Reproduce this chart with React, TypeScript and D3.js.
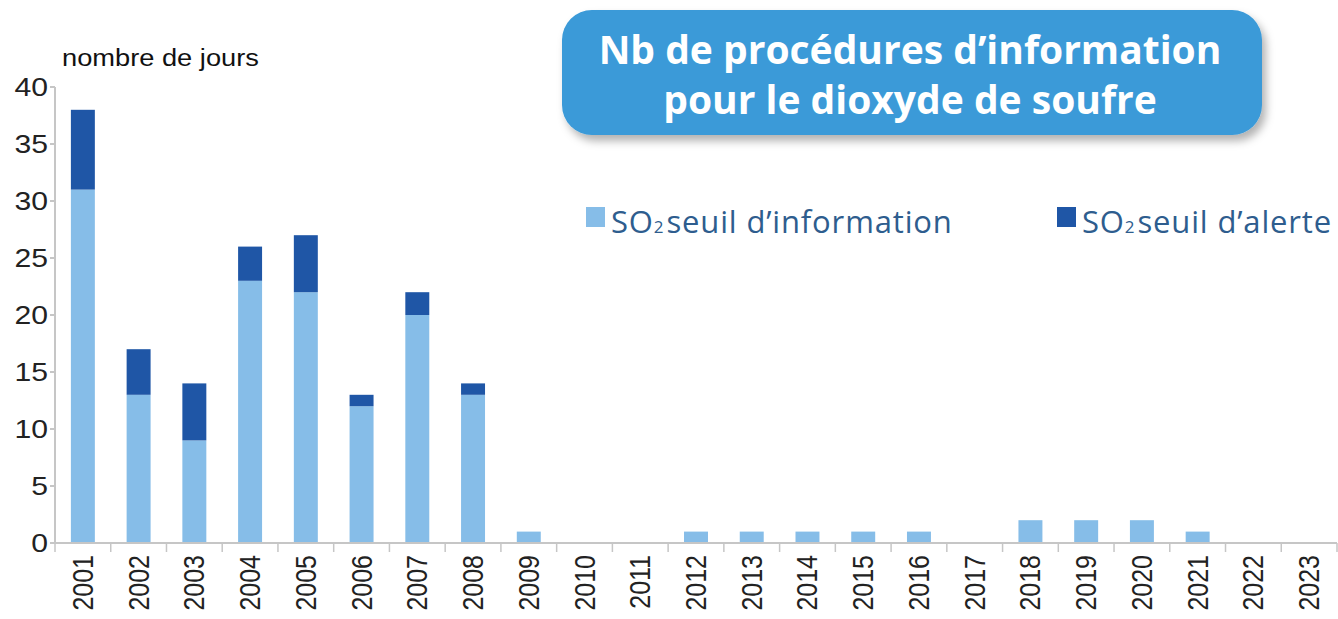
import React, { useRef, useEffect } from 'react';
import * as d3 from 'd3';

const years = ['2001', '2002', '2003', '2004', '2005', '2006', '2007', '2008', '2009', '2010', '2011', '2012',
  '2013', '2014', '2015', '2016', '2017', '2018', '2019', '2020', '2021', '2022', '2023'];
const infoValues = [31, 13, 9, 23, 22, 12, 20, 13, 1, 0, 0, 1, 1, 1, 1, 1, 0, 2, 2, 2, 1, 0, 0];
const alerteValues = [7, 4, 5, 3, 5, 1, 2, 1, 0, 0, 0, 0, 0, 0, 0, 0, 0, 0, 0, 0, 0, 0, 0];
const yTicks = [0, 5, 10, 15, 20, 25, 30, 35, 40];

const LIGHT = '#86bde8';
const DARK = '#1f56a6';
const STRETCH = 1.16; // the source text looks horizontally stretched

const App = () => {
  const svgRef = useRef<SVGSVGElement>(null);

  useEffect(() => {
    if (!svgRef.current) return;
    const width = 1338;
    const height = 619;

    d3.select(svgRef.current).selectAll('*').remove();
    const svg = d3.select(svgRef.current)
      .attr('width', width)
      .attr('height', height);

    // scales
    const x = d3.scaleBand()
      .domain(years)
      .range([55, 1337])
      .paddingInner(0.57)
      .paddingOuter(0.285);

    const y = d3.scaleLinear()
      .domain([0, 40])
      .range([543, 87]);

    // title box with shadow
    const defs = svg.append('defs');
    const filter = defs.append('filter')
      .attr('id', 'shadow')
      .attr('x', '-10%').attr('y', '-10%')
      .attr('width', '120%').attr('height', '140%');
    filter.append('feDropShadow')
      .attr('dx', 4).attr('dy', 6)
      .attr('stdDeviation', 4)
      .attr('flood-color', '#000')
      .attr('flood-opacity', 0.3);

    svg.append('rect')
      .attr('x', 562).attr('y', 10)
      .attr('width', 700).attr('height', 125)
      .attr('rx', 30)
      .attr('fill', '#3b9ad8')
      .attr('filter', 'url(#shadow)');

    const titleLines = ['Nb de procédures d\u2019information', 'pour le dioxyde de soufre'];
    titleLines.forEach((t, i) => {
      svg.append('text')
        .attr('x', 910)
        .attr('y', 64 + i * 50)
        .attr('text-anchor', 'middle')
        .attr('font-family', 'Open Sans')
        .attr('font-weight', 'bold')
        .attr('font-size', 39)
        .attr('fill', '#fff')
        .text(t);
    });

    // y axis label
    svg.append('text')
      .attr('transform', `translate(62,66) scale(${STRETCH},1)`)
      .attr('font-family', 'Liberation Sans')
      .attr('font-size', 23.5)
      .attr('fill', '#111')
      .text('nombre de jours');

    // axes lines
    const axisColor = '#c6c6c6';
    svg.append('line')
      .attr('x1', 55).attr('x2', 55)
      .attr('y1', y(40)).attr('y2', y(0))
      .attr('stroke', axisColor).attr('stroke-width', 2);

    svg.selectAll('.ytick')
      .data(yTicks)
      .enter()
      .append('line')
      .attr('x1', 50).attr('x2', 55)
      .attr('y1', d => y(d)).attr('y2', d => y(d))
      .attr('stroke', axisColor).attr('stroke-width', 2);

    svg.selectAll('.ylabel')
      .data(yTicks)
      .enter()
      .append('text')
      .attr('transform', d => `translate(48,${y(d) + 9}) scale(${STRETCH},1)`)
      .attr('text-anchor', 'end')
      .attr('font-family', 'Liberation Sans')
      .attr('font-size', 26)
      .attr('fill', '#222')
      .text(d => d);

    // bars
    const bw = x.bandwidth();
    svg.selectAll('.bar-info')
      .data(years)
      .enter()
      .append('rect')
      .attr('x', d => x(d)!)
      .attr('y', (d, i) => y(infoValues[i]))
      .attr('width', bw)
      .attr('height', (d, i) => y(0) - y(infoValues[i]))
      .attr('fill', LIGHT);

    svg.selectAll('.bar-alerte')
      .data(years)
      .enter()
      .append('rect')
      .attr('x', d => x(d)!)
      .attr('y', (d, i) => y(infoValues[i] + alerteValues[i]))
      .attr('width', bw)
      .attr('height', (d, i) => y(infoValues[i]) - y(infoValues[i] + alerteValues[i]))
      .attr('fill', DARK);

    // x axis
    svg.append('line')
      .attr('x1', 55).attr('x2', 1337)
      .attr('y1', y(0)).attr('y2', y(0))
      .attr('stroke', axisColor).attr('stroke-width', 2);

    const step = x.step();
    svg.selectAll('.xtick')
      .data(d3.range(years.length + 1))
      .enter()
      .append('line')
      .attr('x1', i => 55 + i * step).attr('x2', i => 55 + i * step)
      .attr('y1', y(0)).attr('y2', y(0) + 9)
      .attr('stroke', axisColor).attr('stroke-width', 1.5);

    svg.selectAll('.xlabel')
      .data(years)
      .enter()
      .append('text')
      .attr('transform', d => `translate(${x(d)! + bw / 2 + 10},555) scale(${STRETCH},1) rotate(-90)`)
      .attr('text-anchor', 'end')
      .attr('font-family', 'Liberation Sans')
      .attr('font-size', 25)
      .attr('fill', '#222')
      .text(d => d);

    // legend
    const legendItems = [
      { label: 'seuil d\u2019information', color: LIGHT, x: 586 },
      { label: 'seuil d\u2019alerte', color: DARK, x: 1057 },
    ];
    legendItems.forEach(item => {
      svg.append('rect')
        .attr('x', item.x).attr('y', 207)
        .attr('width', 19).attr('height', 20)
        .attr('fill', item.color);
      const t = svg.append('text')
        .attr('x', item.x + 25).attr('y', 233)
        .attr('font-family', 'Open Sans')
        .attr('font-size', 31)
        .attr('letter-spacing', 0.85)
        .attr('fill', '#2e5d8e');
      t.append('tspan').text('SO');
      t.append('tspan').attr('font-size', 17).text('2');
      t.append('tspan').attr('dx', 2).text(item.label);
    });
  }, []);

  return <svg ref={svgRef} style={{ position: 'absolute', left: 0, top: 0 }}></svg>;
};

export default App;
